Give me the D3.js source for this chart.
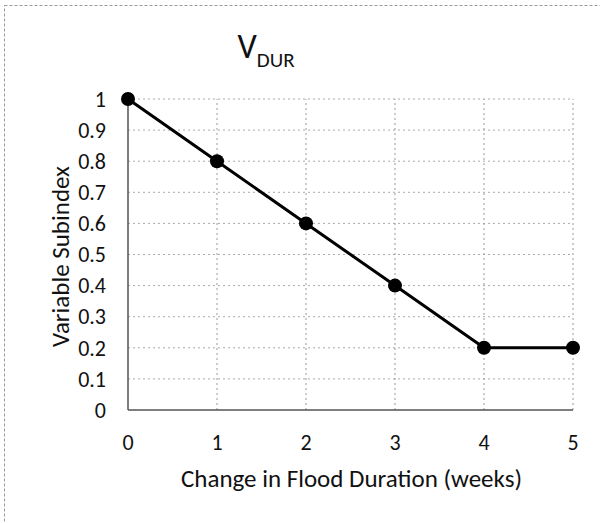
<!DOCTYPE html>
<html>
<head>
<meta charset="utf-8">
<script src="https://cdn.jsdelivr.net/npm/d3@7"></script>
<style>
  body { margin: 0; background: #fff; }
  text { font-family: Carlito, Calibri, Lato, "Open Sans", sans-serif; fill: #111; }
</style>
</head>
<body>
<div id="chart"></div>
<script>
// Data
const weeks = [0, 1, 2, 3, 4, 5];
const subindex = [1, 0.8, 0.6, 0.4, 0.2, 0.2];
const yTicks = [0, 0.1, 0.2, 0.3, 0.4, 0.5, 0.6, 0.7, 0.8, 0.9, 1];
const xTicks = [0, 1, 2, 3, 4, 5];

const width = 600, height = 523;
const margin = { left: 128, right: 27, top: 99, bottom: 113 };

const svg = d3.select("#chart").append("svg")
    .attr("width", width)
    .attr("height", height);

// outer chart frame (faint, dashed like the scan)
svg.append("rect")
    .attr("x", 4.5).attr("y", 5.5)
    .attr("width", width + 10).attr("height", height + 10)
    .attr("fill", "none")
    .attr("stroke", "#999")
    .attr("stroke-dasharray", "3,2");

const x = d3.scaleLinear().domain([0, 5]).range([margin.left, width - margin.right]);
const y = d3.scaleLinear().domain([0, 1]).range([height - margin.bottom, margin.top]);

// gridlines
svg.append("g").selectAll("line")
    .data(yTicks.filter(d => d > 0))
    .enter().append("line")
    .attr("x1", x(0)).attr("x2", x(5))
    .attr("y1", d => y(d)).attr("y2", d => y(d))
    .attr("stroke", "#aaa")
    .attr("stroke-dasharray", "2,3");

svg.append("g").selectAll("line")
    .data(xTicks.filter(d => d > 0))
    .enter().append("line")
    .attr("x1", d => x(d)).attr("x2", d => x(d))
    .attr("y1", y(0)).attr("y2", y(1))
    .attr("stroke", "#999")
    .attr("stroke-dasharray", "2,3");

// axes lines
svg.append("line")
    .attr("x1", x(0)).attr("x2", x(0))
    .attr("y1", y(0)).attr("y2", y(1))
    .attr("stroke", "#555").attr("stroke-width", 1.5);
svg.append("line")
    .attr("x1", x(0)).attr("x2", x(5))
    .attr("y1", y(0)).attr("y2", y(0))
    .attr("stroke", "#555").attr("stroke-width", 1.5);

// tick labels
svg.append("g").selectAll("text")
    .data(yTicks)
    .enter().append("text")
    .attr("x", 106)
    .attr("y", d => y(d))
    .attr("dy", "0.35em")
    .attr("text-anchor", "end")
    .style("font-size", "22px")
    .text(d => d);

svg.append("g").selectAll("text")
    .data(xTicks)
    .enter().append("text")
    .attr("x", d => x(d))
    .attr("y", 442)
    .attr("dy", "0.35em")
    .attr("text-anchor", "middle")
    .style("font-size", "22px")
    .text(d => d);

// axis titles
svg.append("text")
    .attr("x", (x(0) + x(5)) / 2 + 1)
    .attr("y", 478)
    .attr("dy", "0.35em")
    .attr("text-anchor", "middle")
    .style("font-size", "25px")
    .text("Change in Flood Duration (weeks)");

svg.append("text")
    .attr("transform", `translate(60, ${(y(0) + y(1)) / 2 + 2}) rotate(-90)`)
    .attr("dy", "0.35em")
    .attr("text-anchor", "middle")
    .style("font-size", "25px")
    .text("Variable Subindex");

// title V with subscript DUR
const title = svg.append("text")
    .attr("x", 266)
    .attr("y", 58)
    .attr("text-anchor", "middle");
title.append("tspan").style("font-size", "34px").text("V");
title.append("tspan").style("font-size", "21px").attr("dy", 9).text("DUR");

// series line and markers
const line = d3.line()
    .x((d, i) => x(weeks[i]))
    .y(d => y(d));

svg.append("path")
    .datum(subindex)
    .attr("d", line)
    .attr("fill", "none")
    .attr("stroke", "#000")
    .attr("stroke-width", 3);

svg.append("g").selectAll("circle")
    .data(subindex)
    .enter().append("circle")
    .attr("cx", (d, i) => x(weeks[i]))
    .attr("cy", d => y(d))
    .attr("r", 7)
    .attr("fill", "#000");
</script>
</body>
</html>
